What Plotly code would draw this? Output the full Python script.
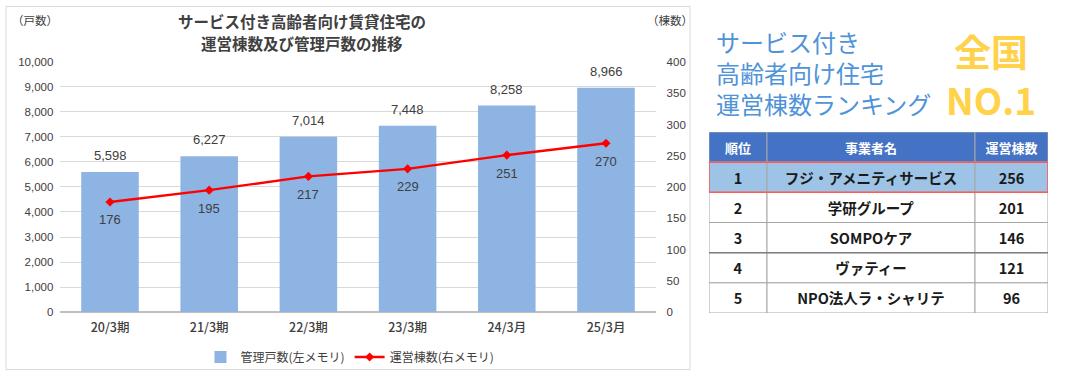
import plotly.graph_objects as go

W, H = 1090, 376

categories = ["20/3期", "21/3期", "22/3期", "23/3期", "24/3月", "25/3月"]
units = [5598, 6227, 7014, 7448, 8258, 8966]          # 管理戸数 (left axis)
buildings = [176, 195, 217, 229, 251, 270]             # 運営棟数 (right axis)

table_header = ["順位", "事業者名", "運営棟数"]
rank_col = ["1", "2", "3", "4", "5"]
name_col = ["フジ・アメニティサービス", "学研グループ", "SOMPOケア", "ヴァティー", "NPO法人ラ・シャリテ"]
count_col = ["256", "201", "146", "121", "96"]

FONT = "Liberation Sans, Noto Sans CJK JP, sans-serif"
JP = "Noto Sans CJK JP, sans-serif"
TXT = "#404040"

# the captured picture is slightly squeezed vertically about its centre; compensate
VSCALE = 0.968

def px_x(x):
    return x / W

def px_y(y):
    ys = H / 2 + (y - H / 2) / VSCALE
    ys = min(max(ys, 0.5), H - 0.5)
    return 1 - ys / H

fig = go.Figure()

# ---------------- main chart ----------------
fig.add_trace(go.Bar(
    x=categories, y=units, name="管理戸数(左メモリ)",
    marker=dict(color="#8db4e2", line=dict(width=0)),
    width=0.58, yaxis="y", xaxis="x", hoverinfo="x+y",
))

fig.add_trace(go.Scatter(
    x=categories, y=buildings, name="運営棟数(右メモリ)",
    mode="lines+markers",
    line=dict(color="#ff0000", width=2.4),
    marker=dict(symbol="diamond", size=7, color="#ff0000"),
    yaxis="y2", xaxis="x",
))

annotations = []
for c, v in zip(categories, units):
    annotations.append(dict(x=c, y=v, xref="x", yref="y", text=f"{v:,}", showarrow=False,
                            xanchor="center", yanchor="bottom", yshift=7,
                            font=dict(size=13, color=TXT, family=FONT)))
for c, v in zip(categories, buildings):
    annotations.append(dict(x=c, y=v, xref="x", yref="y2", text=str(v), showarrow=False,
                            xanchor="center", yanchor="middle", yshift=-18,
                            font=dict(size=13, color=TXT, family=FONT)))

title_lines = ["サービス付き高齢者向け賃貸住宅の", "運営棟数及び管理戸数の推移"]
for i, t in enumerate(title_lines):
    annotations.append(dict(x=px_x(302), y=px_y(21 + i * 22), xref="paper", yref="paper",
                            xanchor="center", yanchor="middle", text=f"<b>{t}</b>",
                            showarrow=False, font=dict(size=15.5, color=TXT, family=JP)))
annotations += [
    dict(x=px_x(35), y=px_y(20), xref="paper", yref="paper", xanchor="center", yanchor="middle",
         text="（戸数）", showarrow=False, font=dict(size=11.5, color=TXT, family=JP)),
    dict(x=px_x(670), y=px_y(20), xref="paper", yref="paper", xanchor="center", yanchor="middle",
         text="（棟数）", showarrow=False, font=dict(size=11.5, color=TXT, family=JP)),
]

# ---------------- right-side headings ----------------
heading_lines = ["サービス付き", "高齢者向け住宅", "運営棟数ランキング"]
annotations.append(dict(x=px_x(714), y=px_y(73), xref="paper", yref="paper",
                        xanchor="left", yanchor="middle", align="left",
                        text="<br>".join(heading_lines), showarrow=False,
                        font=dict(size=24, color="#4f93d8", family=JP)))
annotations.append(dict(x=px_x(991), y=px_y(75), xref="paper", yref="paper",
                        xanchor="center", yanchor="middle", align="center",
                        text="<b>全国</b><br><b>NO.1</b>", showarrow=False,
                        font=dict(size=37, color="#ffd24a", family=JP)))

# ---------------- ranking table (bars on their own axes) ----------------
col_widths = [58, 208, 73]
col_starts = [0, 58, 266]
columns = [rank_col, name_col, count_col]
row_idx = list(range(len(rank_col) + 1))
fills = ["#4472c4", "#9dc3e6"] + ["white"] * (len(rank_col) - 1)
txt_colors = ["white"] + ["#1a1a1a"] * len(rank_col)
txt_sizes = [13] + [14.5] * len(rank_col)

for j, (hdr, col) in enumerate(zip(table_header, columns)):
    fig.add_trace(go.Bar(
        y=row_idx, x=[col_widths[j]] * len(row_idx), base=[col_starts[j]] * len(row_idx),
        orientation="h", width=1,
        marker=dict(color=fills, line=dict(color="#a6a6a6", width=1)),
        text=[f"<b>{hdr}</b>"] + [f"<b>{v}</b>" for v in col],
        textposition="inside", insidetextanchor="middle", textangle=0,
        insidetextfont=dict(color=txt_colors, size=txt_sizes, family=JP),
        constraintext="none",
        xaxis="x3", yaxis="y3", showlegend=False, hoverinfo="skip",
    ))

shapes = [
    dict(type="rect", xref="paper", yref="paper", x0=px_x(6), x1=px_x(690),
         y0=px_y(370), y1=px_y(3), line=dict(color="#d9d9d9", width=1), layer="below"),
    dict(type="rect", xref="x3", yref="y3", x0=0, x1=sum(col_widths), y0=0.5, y1=1.5,
         line=dict(color="#ff5a5a", width=1.5)),
    dict(type="line", xref="x3", yref="y3", x0=0, x1=sum(col_widths), y0=3.5, y1=3.5,
         line=dict(color="#7f7f7f", width=1.5)),
]

fig.update_layout(
    width=W, height=H,
    margin=dict(l=0, r=0, t=0, b=0),
    paper_bgcolor="white", plot_bgcolor="rgba(0,0,0,0)",
    font=dict(family=FONT, color=TXT, size=12),
    barmode="overlay",
    xaxis=dict(domain=[px_x(60.4), px_x(655.6)], type="category", anchor="y",
               showgrid=False, ticks="", showline=False, ticklabelstandoff=6,
               tickfont=dict(size=12.5, color=TXT, family=JP, weight=500)),
    yaxis=dict(range=[0, 10000], dtick=1000, tickformat=",", showgrid=True,
               gridcolor="#d9d9d9", gridwidth=1, zeroline=True, zerolinecolor="#bfbfbf",
               ticks="", ticklabelstandoff=6, anchor="x",
               tickfont=dict(size=11.5, color=TXT),
               domain=[px_y(312), px_y(62)]),
    yaxis2=dict(range=[0, 400], dtick=50, overlaying="y", side="right", showgrid=False,
                zeroline=False, ticks="", ticklabelstandoff=10, anchor="x",
                tickfont=dict(size=11.5, color=TXT)),
    xaxis3=dict(domain=[px_x(709), px_x(1048)], range=[0, sum(col_widths)], anchor="y3",
                visible=False, fixedrange=True),
    yaxis3=dict(domain=[px_y(313), px_y(132)], range=[len(row_idx) - 0.5, -0.5], anchor="x3",
                visible=False, fixedrange=True),
    legend=dict(orientation="h", x=px_x(350), xanchor="center", y=px_y(357), yanchor="middle",
                font=dict(size=12, color=TXT, family=JP), bgcolor="rgba(0,0,0,0)"),
    showlegend=True,
    annotations=annotations,
    shapes=shapes,
)

css_fix = "document.body.style.margin='0';"
fig.write_html("out.html", config={"displayModeBar": False}, post_script=css_fix)
